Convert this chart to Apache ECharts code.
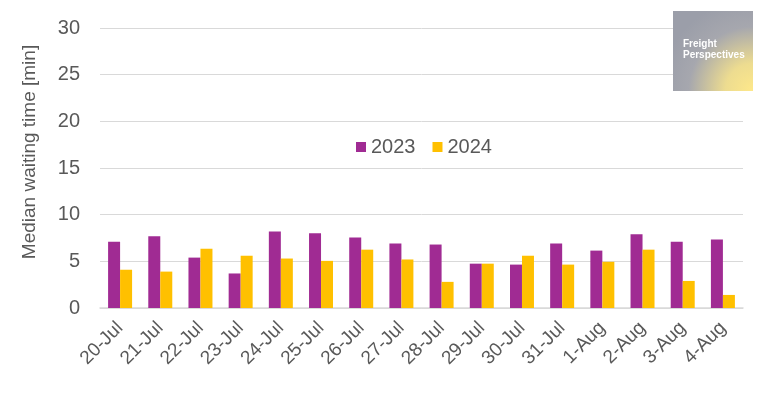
<!DOCTYPE html>
<html><head><meta charset="utf-8">
<script src="https://cdn.jsdelivr.net/npm/echarts@6/dist/echarts.min.js"></script>
<style>html,body{margin:0;padding:0;background:#fff}#c{width:773px;height:396px}</style>
</head><body><div id="c"></div>
<script>
const categories = ['20-Jul','21-Jul','22-Jul','23-Jul','24-Jul','25-Jul','26-Jul','27-Jul','28-Jul','29-Jul','30-Jul','31-Jul','1-Aug','2-Aug','3-Aug','4-Aug'];
const values2023 = [7.1,7.7,5.4,3.7,8.2,8.0,7.55,6.9,6.8,4.75,4.65,6.9,6.15,7.9,7.1,7.35];
const values2024 = [4.1,3.9,6.35,5.6,5.3,5.05,6.25,5.2,2.8,4.75,5.6,4.65,4.95,6.25,2.9,1.4];
const yTicks = {min:0, max:30, interval:5};
const seriesNames = ['2023','2024'];

const chart = echarts.init(document.getElementById('c'), null, {renderer:'canvas'});
const font = 'Liberation Sans, Arial, sans-serif';
chart.setOption({
  animation:false,
  textStyle:{fontFamily:font},
  grid:{left:100,right:30,top:28,bottom:88},
  legend:{
    data:seriesNames, left:351, top:132, itemWidth:10, itemHeight:10, itemGap:17,
    icon:'rect', textStyle:{fontSize:20,color:'#595959',fontFamily:font}
  },
  xAxis:{
    type:'category', data:categories,
    axisLine:{lineStyle:{color:'#d9d9d9',width:1.5}},
    axisTick:{show:false},
    axisLabel:{rotate:45,fontSize:19,color:'#595959',margin:17,interval:0,fontFamily:font}
  },
  yAxis:{
    type:'value', min:yTicks.min, max:yTicks.max, interval:yTicks.interval,
    axisLine:{show:false}, axisTick:{show:false},
    splitLine:{lineStyle:{color:'#d9d9d9',width:1}},
    axisLabel:{fontSize:20,color:'#595959',margin:20,fontFamily:font}
  },
  series:[
    {name:seriesNames[0],type:'bar',data:values2023,barWidth:12,barGap:'0%',itemStyle:{color:'#a02b93'}},
    {name:seriesNames[1],type:'bar',data:values2024,barWidth:12,barGap:'0%',itemStyle:{color:'#ffc000'}}
  ],
  graphic:[
    {type:'text',x:30,y:152,rotation:Math.PI/2,z:50,
     style:{text:'Median waiting time [min]',fill:'#595959',font:'19px '+font,textAlign:'center',textVerticalAlign:'middle'}},
    {type:'rect',left:673,top:11,z:100,shape:{width:80,height:80},
     style:{fill:new echarts.graphic.RadialGradient(1,1,1.15,[
       {offset:0,color:'#fee88a'},{offset:0.3,color:'#eddc90'},{offset:0.7,color:'#a6a7ae'},{offset:1,color:'#9b9ea9'}])}},
    {type:'text',left:683,top:39,z:101,style:{text:'Freight\nPerspectives',fill:'#fff',font:'bold 10px '+font,lineHeight:11}}
  ]
});
</script></body></html>
